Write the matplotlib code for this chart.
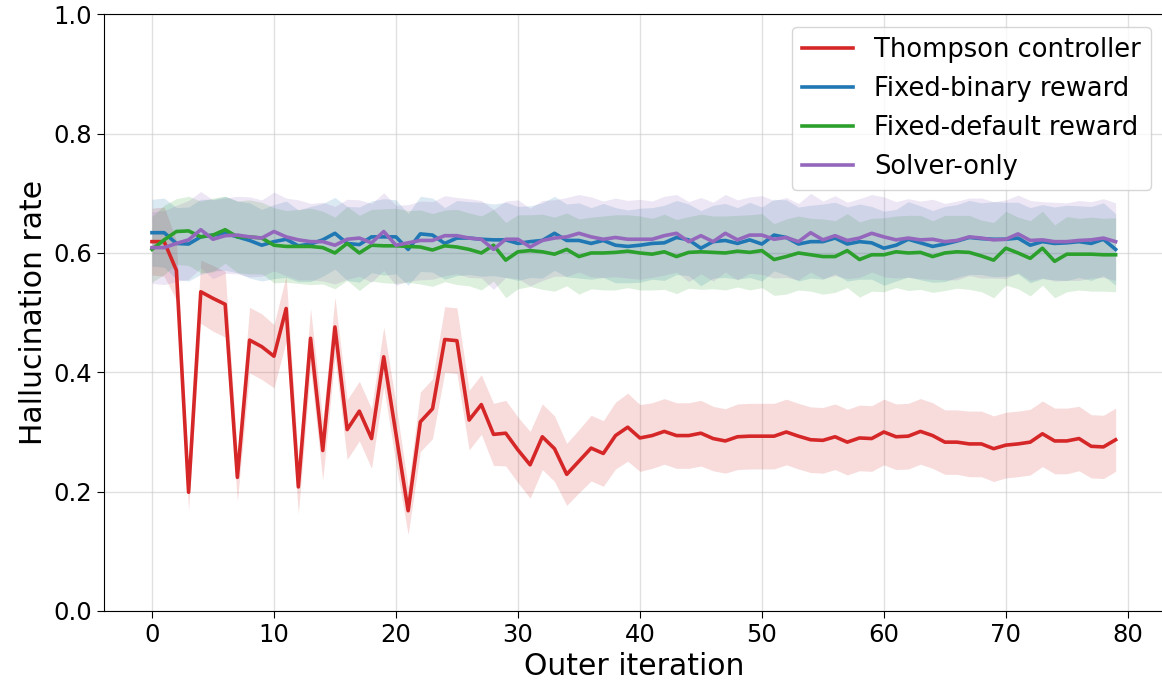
import matplotlib
matplotlib.use("Agg")
import matplotlib.pyplot as plt
import numpy as np

# mean hallucination rate per outer iteration (0..79) and its spread
iterations = np.arange(80)

thompson = [
    0.619, 0.619, 0.571, 0.199, 0.535, 0.524, 0.514, 0.224, 0.454, 0.443,
    0.427, 0.507, 0.208, 0.457, 0.269, 0.476, 0.304, 0.335, 0.289, 0.426,
    0.297, 0.168, 0.317, 0.339, 0.455, 0.453, 0.320, 0.346, 0.296, 0.298,
    0.270, 0.245, 0.292, 0.272, 0.229, 0.251, 0.273, 0.264, 0.294, 0.308,
    0.290, 0.294, 0.301, 0.294, 0.294, 0.298, 0.289, 0.285, 0.292, 0.293,
    0.293, 0.293, 0.300, 0.293, 0.287, 0.286, 0.292, 0.283, 0.290, 0.289,
    0.300, 0.292, 0.293, 0.301, 0.294, 0.283, 0.283, 0.280, 0.280, 0.272,
    0.278, 0.280, 0.283, 0.297, 0.285, 0.285, 0.289, 0.276, 0.275, 0.287,
]
thompson_sd = [
    0.056, 0.058, 0.050, 0.030, 0.053, 0.055, 0.055, 0.040, 0.055, 0.055,
    0.053, 0.055, 0.045, 0.050, 0.050, 0.050, 0.050, 0.050, 0.050, 0.050,
    0.050, 0.040, 0.050, 0.050, 0.055, 0.055, 0.050, 0.050, 0.052, 0.055,
    0.055, 0.056, 0.055, 0.055, 0.052, 0.053, 0.055, 0.055, 0.056, 0.057,
    0.056, 0.055, 0.055, 0.055, 0.055, 0.055, 0.054, 0.054, 0.055, 0.055,
    0.055, 0.055, 0.055, 0.055, 0.055, 0.055, 0.055, 0.055, 0.055, 0.055,
    0.055, 0.055, 0.055, 0.055, 0.055, 0.054, 0.054, 0.055, 0.055, 0.055,
    0.055, 0.055, 0.055, 0.055, 0.055, 0.055, 0.054, 0.053, 0.053, 0.053,
]

fixed_binary = [
    0.634, 0.634, 0.616, 0.615, 0.627, 0.630, 0.633, 0.627, 0.621, 0.613,
    0.619, 0.623, 0.612, 0.615, 0.622, 0.633, 0.616, 0.614, 0.627, 0.627,
    0.627, 0.606, 0.632, 0.630, 0.616, 0.625, 0.625, 0.623, 0.622, 0.622,
    0.616, 0.619, 0.621, 0.633, 0.621, 0.621, 0.616, 0.621, 0.613, 0.611,
    0.613, 0.616, 0.617, 0.626, 0.622, 0.608, 0.619, 0.621, 0.616, 0.622,
    0.615, 0.630, 0.626, 0.615, 0.619, 0.619, 0.625, 0.615, 0.619, 0.617,
    0.608, 0.613, 0.623, 0.617, 0.611, 0.615, 0.620, 0.626, 0.624, 0.623,
    0.623, 0.625, 0.613, 0.619, 0.616, 0.617, 0.619, 0.616, 0.623, 0.606,
]
fixed_binary_sd = [
    0.056, 0.058, 0.060, 0.062, 0.063, 0.060, 0.062, 0.060, 0.063, 0.060,
    0.062, 0.064, 0.060, 0.063, 0.061, 0.060, 0.062, 0.063, 0.060, 0.064,
    0.062, 0.060, 0.063, 0.062, 0.060, 0.063, 0.061, 0.062, 0.060, 0.063,
    0.062, 0.060, 0.063, 0.062, 0.061, 0.063, 0.060, 0.062, 0.063, 0.061,
    0.062, 0.060, 0.063, 0.062, 0.060, 0.063, 0.061, 0.062, 0.060, 0.063,
    0.062, 0.060, 0.063, 0.062, 0.061, 0.063, 0.060, 0.062, 0.063, 0.061,
    0.062, 0.060, 0.063, 0.062, 0.060, 0.063, 0.061, 0.062, 0.060, 0.063,
    0.062, 0.060, 0.063, 0.062, 0.061, 0.063, 0.060, 0.062, 0.061, 0.060,
]

fixed_default = [
    0.606, 0.622, 0.636, 0.637, 0.627, 0.630, 0.639, 0.627, 0.627, 0.625,
    0.613, 0.611, 0.611, 0.611, 0.609, 0.600, 0.616, 0.600, 0.613, 0.612,
    0.612, 0.611, 0.610, 0.605, 0.612, 0.610, 0.606, 0.600, 0.613, 0.588,
    0.602, 0.604, 0.602, 0.598, 0.606, 0.594, 0.600, 0.600, 0.601, 0.603,
    0.600, 0.598, 0.602, 0.594, 0.601, 0.602, 0.601, 0.600, 0.603, 0.601,
    0.604, 0.589, 0.594, 0.600, 0.597, 0.594, 0.594, 0.604, 0.589, 0.597,
    0.597, 0.602, 0.600, 0.601, 0.594, 0.600, 0.602, 0.601, 0.595, 0.588,
    0.608, 0.600, 0.591, 0.608, 0.586, 0.598, 0.598, 0.598, 0.597, 0.597,
]
fixed_default_sd = [
    0.055, 0.058, 0.055, 0.058, 0.060, 0.062, 0.056, 0.060, 0.062, 0.060,
    0.063, 0.060, 0.062, 0.064, 0.061, 0.060, 0.062, 0.063, 0.060, 0.062,
    0.063, 0.060, 0.062, 0.061, 0.060, 0.063, 0.061, 0.062, 0.060, 0.063,
    0.062, 0.060, 0.063, 0.062, 0.061, 0.063, 0.060, 0.062, 0.063, 0.061,
    0.062, 0.060, 0.063, 0.062, 0.060, 0.063, 0.061, 0.062, 0.060, 0.063,
    0.062, 0.060, 0.063, 0.062, 0.061, 0.063, 0.060, 0.062, 0.063, 0.061,
    0.062, 0.060, 0.063, 0.062, 0.060, 0.063, 0.061, 0.062, 0.060, 0.063,
    0.062, 0.060, 0.063, 0.062, 0.061, 0.063, 0.060, 0.062, 0.061, 0.062,
]

solver_only = [
    0.609, 0.609, 0.616, 0.622, 0.639, 0.623, 0.629, 0.630, 0.627, 0.625,
    0.636, 0.627, 0.622, 0.619, 0.619, 0.613, 0.623, 0.625, 0.617, 0.636,
    0.613, 0.617, 0.621, 0.621, 0.629, 0.629, 0.625, 0.623, 0.606, 0.623,
    0.623, 0.610, 0.621, 0.625, 0.627, 0.633, 0.627, 0.623, 0.626, 0.623,
    0.623, 0.623, 0.629, 0.633, 0.619, 0.629, 0.619, 0.633, 0.622, 0.630,
    0.630, 0.623, 0.626, 0.619, 0.634, 0.622, 0.629, 0.621, 0.625, 0.633,
    0.627, 0.622, 0.625, 0.622, 0.623, 0.619, 0.621, 0.627, 0.625, 0.622,
    0.623, 0.632, 0.621, 0.622, 0.619, 0.619, 0.621, 0.622, 0.625, 0.619,
]
solver_only_sd = [
    0.060, 0.062, 0.064, 0.066, 0.064, 0.066, 0.063, 0.065, 0.067, 0.064,
    0.066, 0.065, 0.067, 0.064, 0.066, 0.065, 0.067, 0.064, 0.066, 0.065,
    0.067, 0.064, 0.066, 0.065, 0.067, 0.064, 0.066, 0.065, 0.067, 0.064,
    0.066, 0.065, 0.067, 0.064, 0.066, 0.065, 0.067, 0.064, 0.066, 0.065,
    0.067, 0.064, 0.066, 0.065, 0.067, 0.064, 0.066, 0.065, 0.067, 0.064,
    0.066, 0.065, 0.067, 0.064, 0.066, 0.065, 0.067, 0.064, 0.066, 0.065,
    0.067, 0.064, 0.066, 0.065, 0.067, 0.064, 0.066, 0.065, 0.067, 0.064,
    0.066, 0.065, 0.067, 0.064, 0.066, 0.065, 0.067, 0.064, 0.066, 0.065,
]

series = [
    ("Thompson controller", thompson, thompson_sd, "tab:red"),
    ("Fixed-binary reward", fixed_binary, fixed_binary_sd, "tab:blue"),
    ("Fixed-default reward", fixed_default, fixed_default_sd, "tab:green"),
    ("Solver-only", solver_only, solver_only_sd, "tab:purple"),
]

fig = plt.figure(figsize=(11.62, 6.86), dpi=100)
ax = fig.add_axes([103.8 / 1162, 75 / 686, 1060 / 1162, 596.7 / 686])

for label, mean, sd, color in series:
    mean = np.asarray(mean)
    sd = np.asarray(sd)
    ax.fill_between(iterations, mean - sd, mean + sd, color=color,
                    alpha=0.16, linewidth=0)
    ax.plot(iterations, mean, color=color, lw=2.6, label=label)

ax.set_ylim(0, 1.0)
ax.set_xticks(range(0, 81, 10))
ax.set_yticks(np.arange(0, 1.01, 0.2))
ax.grid(True, color="#cccccc", alpha=0.6, lw=1)
ax.set_axisbelow(True)
ax.tick_params(labelsize=17.5, length=5)
ax.set_xlabel("Outer iteration", fontsize=21.5)
ax.set_ylabel("Hallucination rate", fontsize=21.5)
ax.legend(loc="upper right", fontsize=18.5, labelspacing=0.5)

fig.savefig("out.png", dpi=100)
